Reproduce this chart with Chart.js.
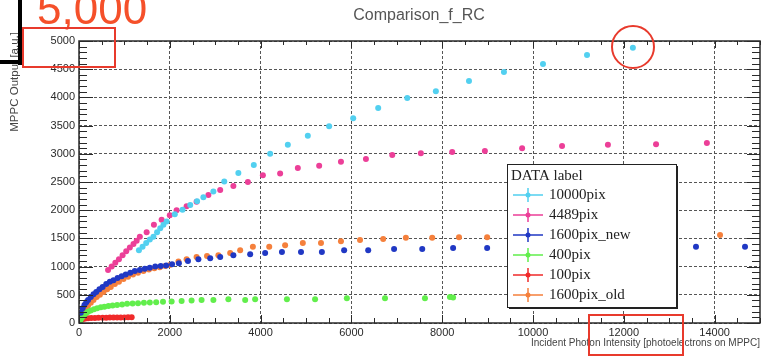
<!DOCTYPE html>
<html>
<head>
<meta charset="utf-8">
<script src="https://cdn.jsdelivr.net/npm/chart.js@4"></script>
<style>
    html, body { margin: 0; padding: 0; background: #ffffff; }
    #wrap { width: 770px; height: 361px; position: relative; }
</style>
</head>
<body>
<div id="wrap"><canvas id="rc"></canvas></div>
<script>
"use strict";

// MPPC output versus incident photon intensity, one series per pixel count.
// Each series is a list of [photoelectrons, output] pairs.
const pix10000 = [
    [1320, 1290], [1400, 1350], [1480, 1420], [1560, 1480], [1640, 1530], [1720, 1610],
    [1790, 1680], [1860, 1740], [1930, 1800], [2110, 1930], [2280, 2010], [2450, 2090],
    [2600, 2160], [2740, 2230], [2960, 2330], [3200, 2510], [3510, 2660], [3850, 2800],
    [4210, 3000], [4600, 3160], [5040, 3320], [5510, 3490], [6040, 3630], [6590, 3810],
    [7230, 3990], [7860, 4110], [8590, 4290], [9360, 4450], [10220, 4590], [11190, 4750],
    [12200, 4880]
];
const pix4489 = [
    [640, 940], [720, 1000], [800, 1070], [880, 1130], [960, 1200], [1040, 1270],
    [1120, 1340], [1200, 1400], [1270, 1460], [1340, 1530], [1490, 1610], [1650, 1740],
    [1820, 1830], [2000, 1910], [2150, 2000], [2370, 2070], [2590, 2150], [2850, 2270],
    [3110, 2360], [3400, 2430], [3720, 2500], [4050, 2620], [4430, 2650], [4820, 2750],
    [5290, 2790], [5770, 2860], [6320, 2910], [6900, 2980], [7530, 3010], [8220, 3030],
    [8940, 3050], [9760, 3100], [10640, 3140], [11650, 3160], [12710, 3170], [13830, 3190]
];
const pix1600New = [
    [40, 180], [80, 260], [120, 320], [160, 370], [200, 410], [260, 460], [320, 510],
    [380, 550], [450, 600], [520, 640], [600, 690], [680, 730], [760, 760], [850, 800],
    [940, 830], [1030, 860], [1130, 890], [1230, 920], [1340, 940], [1450, 960],
    [1560, 980], [1680, 1000], [1800, 1010], [1920, 1020], [2050, 1040], [2200, 1060],
    [2400, 1100], [2630, 1130], [2890, 1150], [3110, 1170], [3400, 1200], [3770, 1220],
    [4100, 1240], [4470, 1260], [4890, 1260], [5350, 1260], [5840, 1290], [6370, 1290],
    [6940, 1310], [7560, 1310], [8240, 1330], [8990, 1330], [9900, 1340], [10900, 1340],
    [11900, 1340], [12800, 1340], [13590, 1350], [14670, 1350]
];
const pix400 = [
    [30, 40], [60, 90], [100, 130], [150, 170], [200, 200], [260, 220], [330, 245],
    [400, 260], [480, 280], [560, 290], [650, 300], [740, 310], [840, 320], [950, 330],
    [1060, 340], [1180, 345], [1300, 350], [1430, 360], [1560, 365], [1700, 370],
    [1850, 375], [2040, 380], [2260, 390], [2480, 400], [2700, 410], [2960, 410],
    [3290, 420], [3660, 410], [3880, 420], [4580, 420], [5200, 420], [5900, 440],
    [6740, 440], [7620, 440], [8170, 460], [8240, 450]
];
const pix100 = [
    [20, 30], [50, 55], [90, 70], [140, 80], [200, 85], [270, 88], [350, 90], [430, 92],
    [520, 94], [600, 95], [680, 96], [760, 97], [840, 98], [920, 98], [1000, 99],
    [1080, 100], [1160, 100]
];
const pix1600Old = [
    [20, 60], [60, 140], [100, 200], [150, 260], [200, 310], [260, 360], [320, 410],
    [390, 460], [460, 500], [540, 550], [620, 600], [700, 640], [790, 690], [880, 730],
    [980, 780], [1080, 820], [1190, 860], [1300, 890], [1420, 920], [1540, 950],
    [1660, 970], [1780, 990], [1900, 1010], [2000, 1030], [2190, 1090], [2370, 1130],
    [2590, 1170], [2820, 1190], [3070, 1200], [3330, 1240], [3550, 1290], [3830, 1350],
    [4190, 1350], [4540, 1380], [4930, 1420], [5330, 1420], [5770, 1450], [6190, 1470],
    [6700, 1490], [7200, 1510], [7780, 1510], [8370, 1520], [8990, 1520], [9800, 1530],
    [10800, 1540], [11800, 1540], [12900, 1550], [14120, 1560]
];

const seriesLabels = ["10000pix", "4489pix", "1600pix_new", "400pix", "100pix", "1600pix_old"];
const seriesData = [pix10000, pix4489, pix1600New, pix400, pix100, pix1600Old];
const seriesColors = ["#52d0f0", "#ec3f98", "#2038c4", "#62ee4c", "#f02a2a", "#f5803c"];

const xTicks = [0, 2000, 4000, 6000, 8000, 10000, 12000, 14000];
const yTicks = [0, 500, 1000, 1500, 2000, 2500, 3000, 3500, 4000, 4500, 5000];

const sansFont = "'Liberation Sans', Arial, sans-serif";
const serifFont = "'Liberation Serif', 'Times New Roman', serif";

// Axis frame with inward ticks on all four sides, ROOT style.
const rootFrame = {
    id: "rootFrame",
    afterDatasetsDraw(chart) {
        const ctx = chart.ctx;
        const area = chart.chartArea;
        const xs = chart.scales.x;
        const ys = chart.scales.y;

        ctx.save();
        ctx.strokeStyle = "#2a2a2a";
        ctx.lineWidth = 1;
        ctx.beginPath();
        for (let v = 0; v <= xs.max; v += 500) {
            const px = Math.round(xs.getPixelForValue(v)) + 0.5;
            const major = v % 2000 === 0;
            ctx.moveTo(px, area.bottom);
            ctx.lineTo(px, area.bottom - (major ? 8 : 5));
            ctx.moveTo(px, area.top);
            ctx.lineTo(px, area.top + (major ? 7 : 4));
        }
        for (let v = 0; v <= ys.max; v += 100) {
            const py = Math.round(ys.getPixelForValue(v)) + 0.5;
            const major = v % 500 === 0;
            ctx.moveTo(area.left, py);
            ctx.lineTo(area.left + (major ? 14 : 8), py);
            ctx.moveTo(area.right, py);
            ctx.lineTo(area.right - (major ? 13 : 8), py);
        }
        ctx.stroke();

        ctx.lineWidth = 1.5;
        ctx.strokeRect(area.left, area.top, area.right - area.left, area.bottom - area.top);
        ctx.restore();
    }
};

// Title, axis titles, the boxed legend and the red highlight marks.
const overlay = {
    id: "overlay",
    afterDraw(chart) {
        const ctx = chart.ctx;
        const area = chart.chartArea;
        ctx.save();

        ctx.fillStyle = "#555555";
        ctx.font = "16px " + sansFont;
        ctx.textAlign = "center";
        ctx.textBaseline = "middle";
        ctx.fillText("Comparison_f_RC", 419, 16);

        ctx.fillStyle = "#444444";
        ctx.font = "10px " + sansFont;
        ctx.textAlign = "right";
        ctx.fillText("Incident Photon Intensity [photoelectrons on MPPC]", area.right, 343);

        ctx.save();
        ctx.translate(15, 32);
        ctx.rotate(-Math.PI / 2);
        ctx.textAlign = "right";
        ctx.font = "11.5px " + sansFont;
        ctx.fillText("MPPC Output [a.u.]", 0, 0);
        ctx.restore();

        // legend box with shadow
        const lx = 507, ly = 164, lw = 169, lh = 143;
        ctx.fillStyle = "#222222";
        ctx.fillRect(lx + 2, ly + 2, lw, lh);
        ctx.fillStyle = "#ffffff";
        ctx.fillRect(lx, ly, lw, lh);
        ctx.strokeStyle = "#222222";
        ctx.lineWidth = 1;
        ctx.strokeRect(lx + 0.5, ly + 0.5, lw, lh);

        ctx.fillStyle = "#222222";
        ctx.font = "15px " + serifFont;
        ctx.textAlign = "left";
        ctx.fillText("DATA label", 511, 176);

        chart.data.datasets.forEach((ds, i) => {
            const ry = 195 + i * 20;
            ctx.strokeStyle = ds.backgroundColor;
            ctx.lineWidth = 1.5;
            ctx.beginPath();
            ctx.moveTo(513, ry);
            ctx.lineTo(543, ry);
            ctx.moveTo(528, ry - 7);
            ctx.lineTo(528, ry + 7);
            ctx.stroke();
            ctx.fillStyle = ds.backgroundColor;
            ctx.beginPath();
            ctx.arc(528, ry, 2.5, 0, Math.PI * 2);
            ctx.fill();
            ctx.fillStyle = "#222222";
            ctx.fillText(ds.label, 549, ry);
        });

        // red highlight marks
        ctx.fillStyle = "#f5502a";
        ctx.font = "44px " + sansFont;
        ctx.textAlign = "left";
        ctx.textBaseline = "alphabetic";
        ctx.fillText("5,000", 37, 24);

        ctx.strokeStyle = "#e83a2c";
        ctx.lineWidth = 2;
        ctx.strokeRect(23, 28, 92, 39);
        ctx.strokeRect(589, 315, 94, 40);
        ctx.beginPath();
        ctx.arc(633, 47, 21, 0, Math.PI * 2);
        ctx.stroke();

        ctx.fillStyle = "#000000";
        ctx.fillRect(18, 0, 4, 65);
        ctx.fillRect(0, 60, 22, 4);

        ctx.restore();
    }
};

const datasets = seriesData.map((points, i) => ({
    label: seriesLabels[i],
    data: points.map((p) => ({ x: p[0], y: p[1] })),
    backgroundColor: seriesColors[i],
    borderColor: seriesColors[i],
    pointRadius: 3,
    pointBorderWidth: 0,
    showLine: false
}));

new Chart(document.getElementById("rc"), {
    type: "scatter",
    data: { datasets: datasets },
    options: {
        responsive: true,
        maintainAspectRatio: false,
        animation: false,
        devicePixelRatio: 1,
        layout: {
            padding: { top: 41, right: 10, left: 0, bottom: 0 }
        },
        scales: {
            x: {
                type: "linear",
                min: 0,
                max: 15000,
                afterBuildTicks(scale) {
                    scale.ticks = xTicks.map((v) => ({ value: v }));
                },
                afterFit(scale) {
                    scale.height = 38;
                },
                grid: {
                    color: "#555555",
                    lineWidth: 1,
                    drawTicks: false
                },
                border: {
                    display: false,
                    dash: [3, 2]
                },
                ticks: {
                    color: "#2a2a2a",
                    font: { family: sansFont, size: 11 },
                    padding: 3,
                    maxRotation: 0,
                    autoSkip: false,
                    callback: (v) => String(v)
                }
            },
            y: {
                type: "linear",
                min: 0,
                max: 5000,
                afterBuildTicks(scale) {
                    scale.ticks = yTicks.map((v) => ({ value: v }));
                },
                afterFit(scale) {
                    scale.width = 79;
                },
                grid: {
                    color: "#555555",
                    lineWidth: 1,
                    drawTicks: false
                },
                border: {
                    display: false,
                    dash: [3, 2]
                },
                ticks: {
                    color: "#2a2a2a",
                    font: { family: sansFont, size: 11 },
                    padding: 4,
                    autoSkip: false,
                    callback: (v) => String(v)
                }
            }
        },
        plugins: {
            legend: { display: false },
            title: { display: false },
            tooltip: { enabled: false }
        }
    },
    plugins: [rootFrame, overlay]
});
</script>
</body>
</html>
